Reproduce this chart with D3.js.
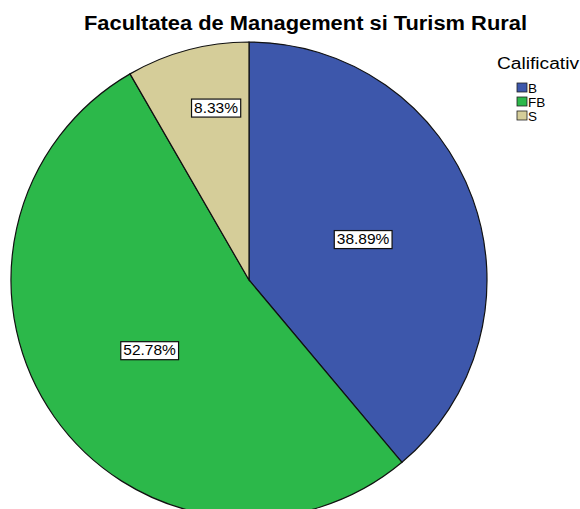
<!DOCTYPE html>
<html>
<head>
<meta charset="utf-8">
<script src="https://cdn.jsdelivr.net/npm/d3@7"></script>
<style>
  body { margin: 0; background: #fff; }
  svg { font-family: "Liberation Sans", Arial, sans-serif; }
</style>
</head>
<body>
<div id="chart"></div>
<script>
const categories = ["B", "FB", "S"];
const percents = [38.89, 52.78, 8.33];
const colors = ["#3d57ab", "#2cb84a", "#d5cd99"];
const chartTitle = "Facultatea de Management si Turism Rural";
const legendTitle = "Calificativ";

const width = 580, height = 509;
const cx = 249, cy = 280, radius = 238;

const svg = d3.select("#chart")
    .append("svg")
    .attr("width", width)
    .attr("height", height);

svg.append("text")
    .attr("x", 84)
    .attr("y", 30)
    .attr("textLength", 443)
    .attr("lengthAdjust", "spacingAndGlyphs")
    .style("font-size", "20px")
    .style("font-weight", "bold")
    .text(chartTitle);

const data = categories.map((c, i) => ({ cat: c, value: percents[i], color: colors[i] }));

const pie = d3.pie()
    .sort(null)
    .value(d => d.value);

const arc = d3.arc()
    .innerRadius(0)
    .outerRadius(radius);

const g = svg.append("g")
    .attr("transform", "translate(" + cx + "," + cy + ")");

const arcs = pie(data);

g.selectAll("path.slice")
    .data(arcs)
    .enter()
    .append("path")
    .attr("class", "slice")
    .attr("d", arc)
    .attr("fill", d => d.data.color)
    .attr("stroke", "#111")
    .attr("stroke-width", 1.2);

// small slices get their label pushed further out (and a bit toward the end)
const labelPos = d => {
    const span = d.endAngle - d.startAngle;
    const small = span < 0.6;
    const a = (d.startAngle + d.endAngle) / 2 + (small ? span * 0.14 : 0);
    const r = small ? radius * 0.74 : radius * 0.51;
    return [r * Math.sin(a), -r * Math.cos(a)];
};

const labels = g.selectAll("g.lbl")
    .data(arcs)
    .enter()
    .append("g")
    .attr("class", "lbl")
    .attr("transform", d => "translate(" + labelPos(d) + ")");

labels.append("text")
    .attr("text-anchor", "middle")
    .attr("dy", "0.36em")
    .style("font-size", "15.5px")
    .text(d => d.data.value.toFixed(2) + "%");

labels.each(function() {
    const t = d3.select(this).select("text");
    const b = t.node().getBBox();
    d3.select(this).insert("rect", "text")
        .attr("x", b.x - 2.5)
        .attr("y", b.y + 0.5)
        .attr("width", b.width + 5)
        .attr("height", b.height + 1)
        .attr("fill", "#fff")
        .attr("stroke", "#111")
        .attr("stroke-width", 1.2);
});

// legend
const legend = svg.append("g")
    .attr("transform", "translate(497,0)");

legend.append("text")
    .attr("x", 0)
    .attr("y", 69)
    .attr("textLength", 82)
    .attr("lengthAdjust", "spacingAndGlyphs")
    .style("font-size", "16px")
    .text(legendTitle);

const items = legend.selectAll("g.item")
    .data(data)
    .enter()
    .append("g")
    .attr("class", "item")
    .attr("transform", (d, i) => "translate(20," + (83 + i * 14) + ")");

items.append("rect")
    .attr("width", 10)
    .attr("height", 9)
    .attr("fill", d => d.color)
    .attr("stroke", "#222")
    .attr("stroke-width", 0.8);

items.append("text")
    .attr("x", 11)
    .attr("y", 10)
    .style("font-size", "13.5px")
    .text(d => d.cat);
</script>
</body>
</html>
